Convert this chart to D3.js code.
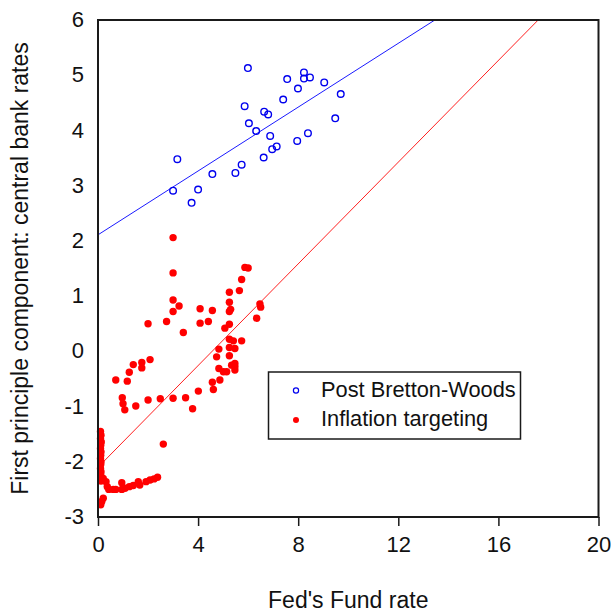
<!DOCTYPE html>
<html><head><meta charset="utf-8">
<script src="https://cdn.jsdelivr.net/npm/d3@7"></script>
<style>
html,body{margin:0;padding:0;background:#fff;}
svg text{font-family:"Liberation Sans",Arial,Helvetica,sans-serif;fill:#111;}
</style></head>
<body>
<svg id="chart" width="611" height="614"></svg>
<script>
// Post Bretton-Woods (x: Fed's fund rate, y: first principal component)
const pbwX = [5.99,7.56,8.23,8.23,8.47,9.04,7.99,7.40,9.70,5.86,9.48,6.64,6.80,6.03,6.32,6.88,8.39,7.96,7.14,6.96,6.62,5.74,5.49,4.57,3.17,4.00,3.00,3.74];
const pbwY = [5.13,4.93,5.05,4.94,4.96,4.87,4.76,4.56,4.66,4.44,4.22,4.34,4.29,4.13,3.99,3.90,3.95,3.81,3.71,3.66,3.51,3.38,3.23,3.21,3.48,2.93,2.91,2.69];

// Inflation targeting
const itX = [3.00,3.00,3.00,3.00,3.24,2.00,2.74,3.41,4.08,4.08,4.57,4.41,
  5.87,6.00,5.74,5.65,5.25,5.25,5.25,5.30,6.47,6.50,6.34,5.25,5.07,
  5.25,5.41,5.74,4.83,5.25,5.47,5.25,4.74,5.47,5.34,5.47,4.83,5.01,5.14,5.47,
  4.87,4.57,4.61,4.01,3.78,3.50,3.00,2.49,2.00,1.51,1.07,1.00,0.97,1.17,0.71,
  1.25,1.41,1.75,1.75,2.08,2.61,
  0.10,0.12,0.10,0.13,0.11,0.10,0.12,0.11,0.10,0.12,0.11,0.10,0.12,0.11,0.13,0.12,
  0.21,0.32,0.37,0.43,0.61,0.71,0.95,0.95,1.08,1.25,1.41,1.61,1.67,1.92,2.08,2.24,2.38,
  0.15,0.21,0.11];
const itY = [2.06,1.42,0.93,0.72,0.82,0.50,0.54,0.34,0.77,0.51,0.74,0.54,
  1.52,1.51,1.30,1.10,1.07,0.89,0.72,0.76,0.86,0.80,0.60,0.49,0.42,
  0.22,0.19,0.19,0.04,0.07,0.05,-0.08,-0.10,-0.22,-0.25,-0.28,-0.31,-0.37,-0.37,-0.34,
  -0.52,-0.56,-0.69,-0.72,-1.04,-0.84,-0.85,-0.86,-0.88,-0.99,-1.06,-0.95,-0.84,-0.54,-0.52,
  -0.38,-0.24,-0.20,-0.30,-0.15,-1.68,
  -1.45,-1.52,-1.58,-1.64,-1.70,-1.76,-1.82,-1.88,-1.94,-2.00,-2.05,-2.12,-2.18,-2.24,-2.30,-2.35,
  -2.30,-2.36,-2.45,-2.50,-2.50,-2.50,-2.38,-2.50,-2.48,-2.45,-2.43,-2.36,-2.42,-2.36,-2.33,-2.31,-2.28,
  -2.72,-2.66,-2.78];

// fitted lines: intercept, slope
const pbwFit = [2.11, 0.289];
const itFit = [-2.10, 0.4605];

const xTicks = [0,4,8,12,16,20];
const yTicks = [-3,-2,-1,0,1,2,3,4,5,6];
const seriesNames = ["Post Bretton-Woods","Inflation targeting"];
const xTitle = "Fed's Fund rate";
const yTitle = "First principle component: central bank rates";

const svg = d3.select("#chart");
const L = 98, R = 598.5, T = 20, B = 517;
const x = d3.scaleLinear().domain([0,20]).range([L,R]);
const y = d3.scaleLinear().domain([-3,6]).range([B,T]);

svg.append("defs").append("clipPath").attr("id","clip")
  .append("rect").attr("x",L).attr("y",T).attr("width",R-L).attr("height",B-T);

// regression lines
function fitLine(fit, color){
  const x0 = 0, x1 = 20;
  svg.append("line").attr("clip-path","url(#clip)")
    .attr("x1",x(x0)).attr("y1",y(fit[0]+fit[1]*x0))
    .attr("x2",x(x1)).attr("y2",y(fit[0]+fit[1]*x1))
    .attr("stroke",color).attr("stroke-width",1);
}
fitLine(pbwFit,"#1a1aff");
fitLine(itFit,"#ff2020");

// points
svg.append("g").selectAll("circle").data(itX.map((v,i)=>[v,itY[i]])).join("circle")
  .attr("cx",d=>x(d[0])).attr("cy",d=>y(d[1])).attr("r",3.7).attr("fill","#ff0000");
svg.append("g").selectAll("circle").data(pbwX.map((v,i)=>[v,pbwY[i]])).join("circle")
  .attr("cx",d=>x(d[0])).attr("cy",d=>y(d[1])).attr("r",3.3)
  .attr("fill","none").attr("stroke","#0000ee").attr("stroke-width",1.4);

// frame
svg.append("rect").attr("x",L).attr("y",T).attr("width",R-L).attr("height",B-T)
  .attr("fill","none").attr("stroke","#1a1a1a").attr("stroke-width",2);

const fmt = d => String(d);

// x axis
const xAxis = d3.axisBottom(x).tickValues(xTicks).tickSize(9).tickPadding(10).tickFormat(fmt);
const gx = svg.append("g").attr("transform",`translate(0,${B})`).call(xAxis);
gx.select(".domain").remove();
gx.selectAll(".tick line").attr("stroke","#1a1a1a").attr("stroke-width",1.5);
gx.selectAll("text").attr("font-size",22).attr("fill","#111");

// y axis (labels only)
const yAxis = d3.axisLeft(y).tickValues(yTicks).tickSize(0).tickPadding(14).tickFormat(fmt);
const gy = svg.append("g").attr("transform",`translate(${L},0)`).call(yAxis);
gy.select(".domain").remove();
gy.selectAll("text").attr("font-size",22).attr("fill","#111").attr("dy","0.3em");

// titles
svg.append("text").attr("x",(L+R)/2).attr("y",608).attr("text-anchor","middle")
  .attr("font-size",23).text(xTitle);
svg.append("text").attr("transform",`translate(28,${(T+B)/2}) rotate(-90)`)
  .attr("text-anchor","middle").attr("font-size",23).text(yTitle);

// legend
const lg = svg.append("g");
lg.append("rect").attr("x",268.5).attr("y",372).attr("width",252).attr("height",67)
  .attr("fill","#fff").attr("stroke","#1a1a1a").attr("stroke-width",1.5);
lg.append("circle").attr("cx",296).attr("cy",390.5).attr("r",2.6)
  .attr("fill","none").attr("stroke","#0000ee").attr("stroke-width",1.2);
lg.append("circle").attr("cx",296).attr("cy",420).attr("r",3).attr("fill","#ff0000");
lg.append("text").attr("x",321).attr("y",397).attr("font-size",21.8).text(seriesNames[0]);
lg.append("text").attr("x",321).attr("y",426).attr("font-size",21.8).text(seriesNames[1]);
</script>
</body></html>
